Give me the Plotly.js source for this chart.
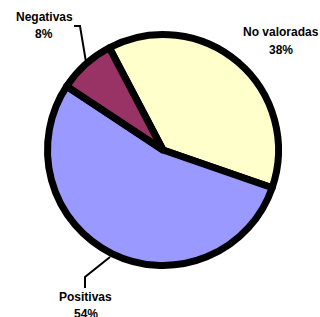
<!DOCTYPE html>
<html>
<head>
<meta charset="utf-8">
<script src="https://cdn.plot.ly/plotly-3.0.1.min.js"></script>
<style>html,body{margin:0;padding:0;background:#fff;}#chart{width:320px;height:317px;}</style>
</head>
<body>
<div id="chart"></div>
<script>
// Data
const categories = ["No valoradas", "Positivas", "Negativas"];
const values = [38, 54, 8];
const sliceColors = ["#FFFFCC", "#9999FF", "#993366"];

const W = 320, H = 317;
function px(x) { return x / W; }
function py(y) { return 1 - y / H; }

const total = values.reduce((a, b) => a + b, 0);
const pct = values.map(v => Math.round(v / total * 100) + "%");

// label placement (pixel positions of name line and percent line)
const labelPos = {
  "No valoradas": {x: 280.5, y1: 32, y2: 50},
  "Positivas": {x: 85.5, y1: 297, y2: 314},
  "Negativas": {x: 44, y1: 17, y2: 34}
};

const annFont = {family: "Liberation Sans, Arial, sans-serif", size: 12, color: "#000"};
const annotations = [];
categories.forEach((c, i) => {
  const p = labelPos[c];
  annotations.push({text: "<b>" + c + "</b>", x: px(p.x), y: py(p.y1), xref: "paper", yref: "paper",
    xanchor: "center", yanchor: "middle", showarrow: false, font: annFont});
  annotations.push({text: "<b>" + pct[i] + "</b>", x: px(p.x), y: py(p.y2), xref: "paper", yref: "paper",
    xanchor: "center", yanchor: "middle", showarrow: false, font: annFont});
});

function pathOf(pts) {
  return pts.map((p, i) => (i ? "L" : "M") + px(p[0]).toFixed(4) + "," + py(p[1]).toFixed(4)).join(" ");
}
const shapes = [
  {type: "path", xref: "paper", yref: "paper", path: pathOf([[74, 26], [80, 26], [86, 62]]), line: {color: "#000", width: 2}},
  {type: "path", xref: "paper", yref: "paper", path: pathOf([[85, 288], [85, 277], [110, 257]]), line: {color: "#000", width: 2}}
];

const cx = 163, cy = 150, r = 115.5;
const trace = {
  type: "pie",
  labels: categories,
  values: values,
  sort: false,
  direction: "clockwise",
  rotation: -27.7,
  textinfo: "none",
  hoverinfo: "label+percent",
  marker: {colors: sliceColors, line: {color: "#000", width: 7}},
  domain: {x: [px(cx - r), px(cx + r)], y: [py(cy + r), py(cy - r)]}
};

Plotly.newPlot("chart", [trace], {
  width: W, height: H,
  margin: {l: 0, r: 0, t: 0, b: 0, pad: 0},
  showlegend: false,
  paper_bgcolor: "#fff",
  annotations: annotations,
  shapes: shapes
}, {displayModeBar: false, staticPlot: true});
</script>
</body>
</html>
